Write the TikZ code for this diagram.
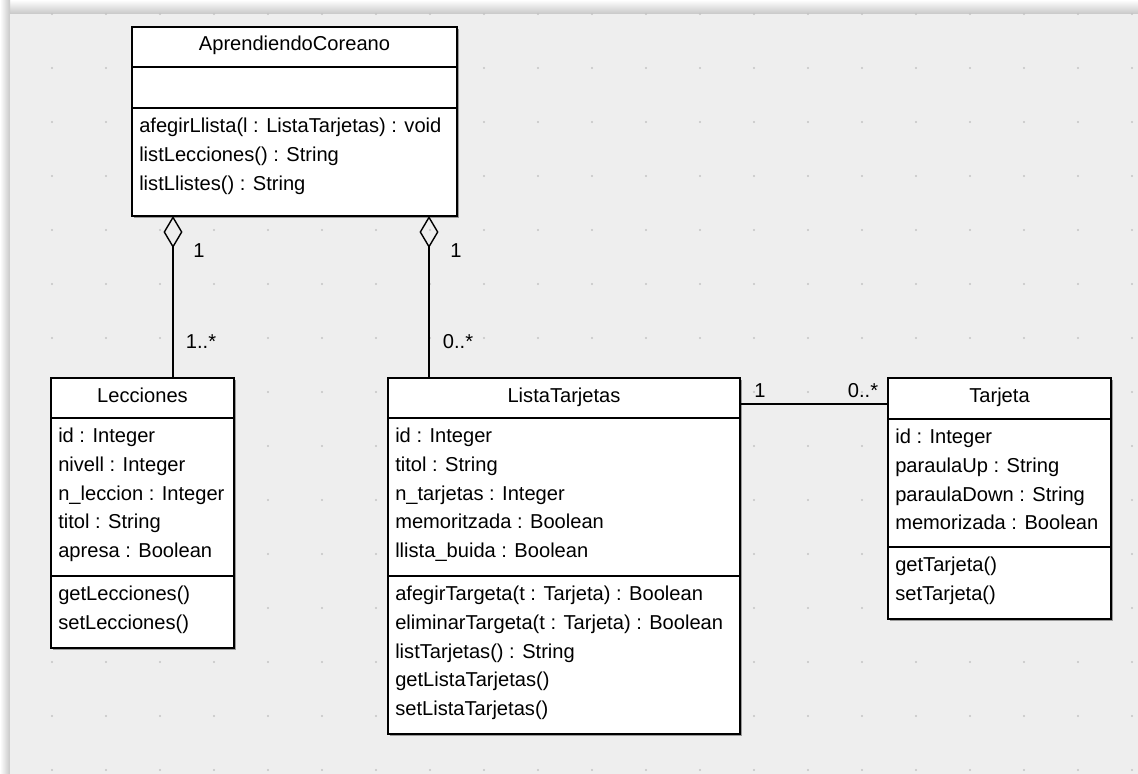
\documentclass[tikz,border=0pt]{standalone}
\usepackage{fontspec}
\setmainfont{Liberation Sans}
\usetikzlibrary{arrows.meta, backgrounds}

\newlength\pxu
\setlength\pxu{0.025cm}
\definecolor{canvas}{HTML}{EEEEEE}
\definecolor{griddot}{HTML}{C4C4C4}
\definecolor{boxshadow}{HTML}{9A9A9A}

\tikzset{
    umlfont/.style={font=\fontsize{14.3pt}{20.4pt}\selectfont},
    compart/.style={draw, fill=white, line width=1.3pt, inner sep=0pt, outer sep=0pt, anchor=north west},
    classname/.style={compart, umlfont, text height=15\pxu, text depth=7\pxu},
    members/.style={umlfont, anchor=north west, align=left, inner sep=0pt},
    mult/.style={umlfont, anchor=base, inner sep=0pt},
    agg/.style={line width=1pt, {Diamond[open, length=22.8pt, width=13.5pt]}-},
    assoc/.style={line width=1pt}
}

\begin{document}
\begin{tikzpicture}[x=0.025cm, y=-0.025cm]

    % Canvas and grid
    \useasboundingbox (0,0) rectangle (1138,774);
    \begin{scope}[on background layer]
        \shade[top color=white, bottom color=black!22] (0,0) rectangle (1138,14);
        \shade[left color=white, right color=black!22] (0,0) rectangle (10,774);
        \fill[canvas] (10,14) rectangle (1138,774);
        \foreach \gx in {0,...,20}
            \foreach \gy in {0,...,14}
                \fill[griddot] (52+54*\gx, 14+54*\gy) circle (1.2);
    \end{scope}

    % AprendiendoCoreano
    \node[classname, minimum width=325\pxu, minimum height=40\pxu] (acName) at (132,27) {AprendiendoCoreano};
    \node[compart, minimum width=325\pxu, minimum height=41\pxu] (acAttr) at (acName.south west) {};
    \node[compart, minimum width=325\pxu, minimum height=108\pxu] (acOps) at (acAttr.south west) {};
    \node[members] (acOpsText) at ([xshift=7\pxu, yshift=-10\pxu]acOps.north west)
        {afegirLlista(l : ListaTarjetas) : void\\ listLecciones() : String\\ listLlistes() : String};

    % Lecciones
    \node[classname, minimum width=183\pxu, minimum height=40\pxu] (lecName) at (51,378) {Lecciones};
    \node[compart, minimum width=183\pxu, minimum height=158\pxu] (lecAttr) at (lecName.south west) {};
    \node[members] (lecAttrText) at ([xshift=7\pxu, yshift=-10\pxu]lecAttr.north west)
        {id : Integer\\ nivell : Integer\\ n\_leccion : Integer\\ titol : String\\ apresa : Boolean};
    \node[compart, minimum width=183\pxu, minimum height=72\pxu] (lecOps) at (lecAttr.south west) {};
    \node[members] (lecOpsText) at ([xshift=7\pxu, yshift=-10\pxu]lecOps.north west)
        {getLecciones()\\ setLecciones()};

    % ListaTarjetas
    \node[classname, minimum width=352\pxu, minimum height=40\pxu] (ltName) at (388,378) {ListaTarjetas};
    \node[compart, minimum width=352\pxu, minimum height=158\pxu] (ltAttr) at (ltName.south west) {};
    \node[members] (ltAttrText) at ([xshift=7\pxu, yshift=-10\pxu]ltAttr.north west)
        {id : Integer\\ titol : String\\ n\_tarjetas : Integer\\ memoritzada : Boolean\\ llista\_buida : Boolean};
    \node[compart, minimum width=352\pxu, minimum height=158\pxu] (ltOps) at (ltAttr.south west) {};
    \node[members] (ltOpsText) at ([xshift=7\pxu, yshift=-10\pxu]ltOps.north west)
        {afegirTargeta(t : Tarjeta) : Boolean\\ eliminarTargeta(t : Tarjeta) : Boolean\\ listTarjetas() : String\\ getListaTarjetas()\\ setListaTarjetas()};

    % Tarjeta
    \node[classname, minimum width=223\pxu, minimum height=41\pxu] (tarName) at (888,378) {Tarjeta};
    \node[compart, minimum width=223\pxu, minimum height=128\pxu] (tarAttr) at (tarName.south west) {};
    \node[members] (tarAttrText) at ([xshift=7\pxu, yshift=-10\pxu]tarAttr.north west)
        {id : Integer\\ paraulaUp : String\\ paraulaDown : String\\ memorizada : Boolean};
    \node[compart, minimum width=223\pxu, minimum height=72\pxu] (tarOps) at (tarAttr.south west) {};
    \node[members] (tarOpsText) at ([xshift=7\pxu, yshift=-10\pxu]tarOps.north west)
        {getTarjeta()\\ setTarjeta()};

    % Box shadows
    \begin{scope}[on background layer]
        \fill[boxshadow] ([xshift=2\pxu, yshift=-2\pxu]acName.north west) rectangle ([xshift=2\pxu, yshift=-2\pxu]acOps.south east);
        \fill[boxshadow] ([xshift=2\pxu, yshift=-2\pxu]lecName.north west) rectangle ([xshift=2\pxu, yshift=-2\pxu]lecOps.south east);
        \fill[boxshadow] ([xshift=2\pxu, yshift=-2\pxu]ltName.north west) rectangle ([xshift=2\pxu, yshift=-2\pxu]ltOps.south east);
        \fill[boxshadow] ([xshift=2\pxu, yshift=-2\pxu]tarName.north west) rectangle ([xshift=2\pxu, yshift=-2\pxu]tarOps.south east);
    \end{scope}

    % Aggregations
    \coordinate (lecTop) at ([xshift=122\pxu]lecName.north west);
    \coordinate (ltTop) at ([xshift=41\pxu]ltName.north west);
    \draw[agg] (acOps.south -| lecTop) -- (lecTop);
    \draw[agg] (acOps.south -| ltTop) -- (ltTop);

    % Association
    \coordinate (assocStart) at ([yshift=-6\pxu]ltName.east);
    \draw[assoc] (assocStart) -- (assocStart -| tarName.west);

    % Multiplicities
    \node[mult] (lecAggOne) at (199,258) {1};
    \node[mult] (lecAggMany) at (201,348) {1..*};
    \node[mult] (ltAggOne) at (456,258) {1};
    \node[mult] (ltAggMany) at (458,348) {0..*};
    \node[mult] (ltAssocOne) at (760,397) {1};
    \node[mult] (tarAssocMany) at (863,397) {0..*};
\end{tikzpicture}
\end{document}
